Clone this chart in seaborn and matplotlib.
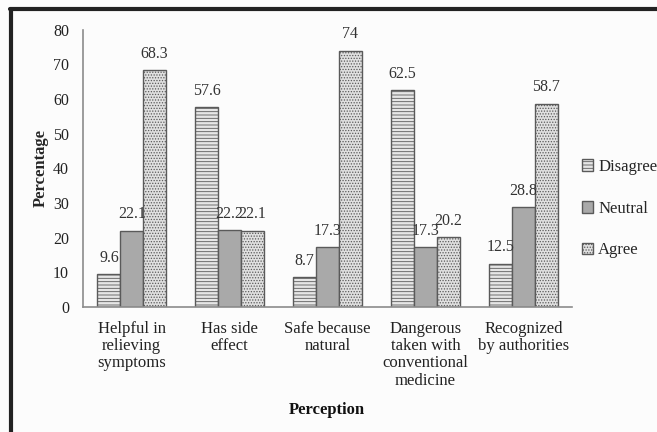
import matplotlib
matplotlib.use("Agg")
import matplotlib.pyplot as plt
import seaborn as sns
import pandas as pd
from matplotlib.lines import Line2D
from matplotlib.patches import Patch

categories = ["Helpful in\nrelieving\nsymptoms", "Has side\neffect", "Safe because\nnatural",
              "Dangerous\ntaken with\nconventional\nmedicine", "Recognized\nby authorities"]
series = ["Disagree", "Neutral", "Agree"]
disagree = [9.6, 57.6, 8.7, 62.5, 12.5]
neutral = [22.1, 22.2, 17.3, 17.3, 28.8]
agree = [68.3, 22.1, 74, 20.2, 58.7]
yticks = [0, 10, 20, 30, 40, 50, 60, 70, 80]

rows = []
for s, vals in zip(series, [disagree, neutral, agree]):
    for c, v in zip(categories, vals):
        rows.append({"Perception": c, "Response": s, "Percentage": v})
df = pd.DataFrame(rows)

sns.set_style("white")
plt.rcParams["font.family"] = ["Liberation Serif", "DejaVu Serif"]
plt.rcParams["hatch.linewidth"] = 0.6
plt.rcParams["hatch.color"] = "#7a7a7a"

fig = plt.figure(figsize=(6.57, 4.32), dpi=100, facecolor="#fcfcfc")
ax = fig.add_axes([0.126, 0.289, 0.745, 0.642])
ax.set_facecolor("#fcfcfc")

fills = {"Disagree": "#e6e6e6", "Neutral": "#a9a9a9", "Agree": "#e0e0e0"}
hatches = {"Disagree": "-----", "Neutral": "", "Agree": "......"}
sns.barplot(data=df, x="Perception", y="Percentage", hue="Response", hue_order=series,
            palette=fills, width=0.7, gap=0, edgecolor="#5a5a5a", linewidth=1.0,
            ax=ax, legend=False, saturation=1)

for cont, s in zip(ax.containers, series):
    for p in cont:
        p.set_hatch(hatches[s])
    ax.bar_label(cont, labels=[f"{v:g}" for v in cont.datavalues], padding=6,
                 fontsize=11.5, color="#333333")

ax.set_ylim(0, 80)
ax.set_yticks(yticks)
ax.set_xlim(-0.5, 4.5)
for sp in ["top", "right"]:
    ax.spines[sp].set_visible(False)
for sp in ["left", "bottom"]:
    ax.spines[sp].set_color("#8c8c8c")
    ax.spines[sp].set_linewidth(1.2)
ax.tick_params(axis="y", length=4, color="#8c8c8c", labelsize=11.5, labelcolor="#222222", pad=6)
ax.tick_params(axis="x", length=0, labelsize=12, labelcolor="#222222", pad=10)
for t in ax.get_xticklabels():
    t.set_linespacing(1.1)
ax.set_ylabel("Percentage", fontsize=12, fontweight="bold", labelpad=3)
ax.set_xlabel("")
fig.text(0.497, 1 - 410 / 432, "Perception", ha="center", va="center",
         fontsize=12, fontweight="bold", color="#111111")

handles = [Patch(facecolor=fills[s], edgecolor="#5a5a5a", hatch=hatches[s], label=s) for s in series]
leg = fig.legend(handles=handles, loc="upper left", bbox_to_anchor=(0.875, 0.648),
                 frameon=False, fontsize=12, handlelength=0.7, handleheight=0.7,
                 handletextpad=0.3, labelspacing=1.55, borderaxespad=0)

fig.add_artist(Line2D([0.015, 1.0], [0.98, 0.98], transform=fig.transFigure,
                      color="#222222", linewidth=3))
fig.add_artist(Line2D([0.016, 0.016], [0.0, 0.98], transform=fig.transFigure,
                      color="#222222", linewidth=3))

fig.savefig("out.png", dpi=100, facecolor=fig.get_facecolor())
